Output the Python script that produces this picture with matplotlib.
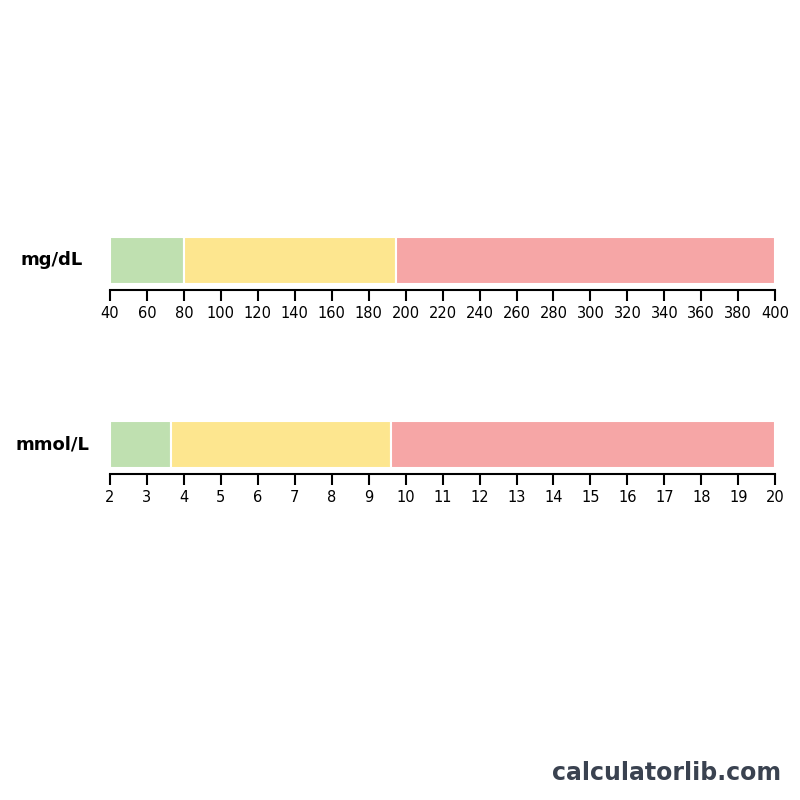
import matplotlib
matplotlib.use("Agg")
import matplotlib.pyplot as plt
from matplotlib.patches import FancyBboxPatch, Rectangle

units = ["mg/dL", "mmol/L"]
ranges = [(40, 400), (2, 20)]
bounds_mg = [40, 80, 195, 400]
bounds_mmol = [2, 3.65, 9.6, 20]
ticks_mg = list(range(40, 401, 20))
ticks_mmol = list(range(2, 21))
colors = ["#bfe0b0", "#fde68f", "#f6a6a6"]

fig = plt.figure(figsize=(8, 8), dpi=100)
fig.patch.set_facecolor("white")

def draw(bottom, unit, rng, bounds, ticks):
    ax = fig.add_axes([0.1375, bottom, 0.8315, 0.059])
    ax.set_xlim(*rng)
    ax.set_ylim(0, 1)
    clip = FancyBboxPatch((rng[0], 0), rng[1] - rng[0], 1,
                          boxstyle="round,pad=0,rounding_size=0.15",
                          mutation_aspect=(rng[1]-rng[0]) / 665 * 47 / 1 * 0 + 1,
                          transform=ax.transData, facecolor="none", edgecolor="none")
    ax.add_patch(clip)
    for i in range(3):
        r = Rectangle((bounds[i], 0), bounds[i+1] - bounds[i], 1,
                      facecolor=colors[i], edgecolor="white", linewidth=1.5)
        ax.add_patch(r)
    for s in ["top", "left", "right"]:
        ax.spines[s].set_visible(False)
    ax.spines["bottom"].set_linewidth(1.5)
    ax.spines["bottom"].set_position(("outward", 4))
    ax.set_yticks([])
    ax.set_xticks(ticks)
    ax.set_xticklabels([str(t) for t in ticks])
    ax.tick_params(axis="x", length=8, width=1.5, labelsize=10.5, pad=4)
    fig.text(0.065, bottom + 0.0295, unit, ha="center", va="center",
             fontsize=13, fontweight="bold")

draw(0.645, units[0], ranges[0], bounds_mg, ticks_mg)
draw(0.415, units[1], ranges[1], bounds_mmol, ticks_mmol)

fig.text(0.976, 0.034, "calculatorlib.com", ha="right", va="center",
         fontsize=17, fontweight="bold", color="#3a4250")
fig.savefig("out.png", dpi=100)
